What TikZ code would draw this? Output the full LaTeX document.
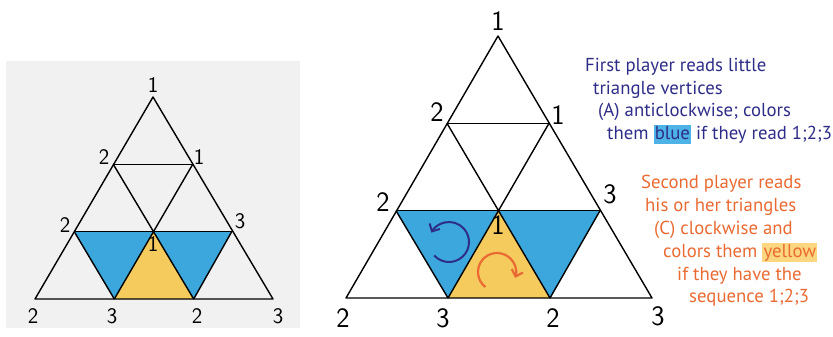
\documentclass[tikz,border=0pt]{standalone}
\usepackage{fontspec}
\setmainfont{PT Sans}
\usepackage{tikz}
\usetikzlibrary{calc,arrows.meta}
\definecolor{tri-blue}{HTML}{3BA7DC}
\definecolor{tri-yellow}{HTML}{F6CB5E}
\definecolor{txt-blue}{HTML}{2E2D88}
\definecolor{txt-orange}{HTML}{E96A32}
\definecolor{hl-blue}{HTML}{4DB3E6}
\definecolor{hl-yellow}{HTML}{FCD77F}
\definecolor{paper}{HTML}{F1F1F1}
\newcommand{\hlword}[2]{{\setlength{\fboxsep}{1pt}\colorbox{#1}{\vphantom{bly}#2}}}

\begin{document}
\begin{tikzpicture}[x=0.03cm, y=-0.03cm,
    grid/.style={line width=1.2pt, line join=round},
    numL/.style={font=\sffamily\fontsize{19}{21}\selectfont},
    numR/.style={font=\sffamily\fontsize{24}{26}\selectfont},
    bluetxt/.style={anchor=base west, inner sep=0pt, text=txt-blue, font=\fontsize{16}{18}\selectfont},
    orangetxt/.style={anchor=base west, inner sep=0pt, text=txt-orange, font=\fontsize{16}{18}\selectfont}]
    \useasboundingbox (0,0) rectangle (833,337);
    \fill[paper] (6,61) rectangle (300,328);

    % left triangle
    \coordinate (L0) at (153,97);
    \coordinate (L11) at (113.3,164.3);
    \coordinate (L12) at (192.7,164.3);
    \coordinate (L21) at (74.3,231.7);
    \coordinate (L22) at (153,231.7);
    \coordinate (L23) at (231.7,231.7);
    \coordinate (L31) at (35,299);
    \coordinate (L32) at (114.3,299);
    \coordinate (L33) at (193.7,299);
    \coordinate (L34) at (273,299);
    \fill[tri-blue] (L21) -- (L22) -- (L32) -- cycle;
    \fill[tri-blue] (L22) -- (L23) -- (L33) -- cycle;
    \fill[tri-yellow] (L22) -- (L32) -- (L33) -- cycle;
    \draw[grid] (L0) -- (L31) -- (L34) -- cycle;
    \draw[grid] (L11) -- (L12) (L21) -- (L23);
    \draw[grid] (L11) -- (L33) (L12) -- (L32);
    \draw[grid] (L21) -- (L32) (L23) -- (L33);
    \node[numL] (l0) at (153,85) {1};
    \node[numL] (l11) at (104,157) {2};
    \node[numL] (l12) at (199,157) {1};
    \node[numL] (l21) at (65,225) {2};
    \node[numL] (l23) at (240,221) {3};
    \node[numL] (l22) at (153,244) {1};
    \node[numL] (l31) at (33,316) {2};
    \node[numL] (l32) at (112,316) {3};
    \node[numL] (l33) at (197,316) {2};
    \node[numL] (l34) at (278,316) {3};

    % right triangle
    \coordinate (R0) at (498,36);
    \coordinate (R11) at (447,123.3);
    \coordinate (R12) at (549,123.3);
    \coordinate (R21) at (396,210.7);
    \coordinate (R22) at (498,210.7);
    \coordinate (R23) at (600,210.7);
    \coordinate (R31) at (346,298);
    \coordinate (R32) at (448,298);
    \coordinate (R33) at (550,298);
    \coordinate (R34) at (652,298);
    \fill[tri-blue] (R21) -- (R22) -- (R32) -- cycle;
    \fill[tri-blue] (R22) -- (R23) -- (R33) -- cycle;
    \fill[tri-yellow] (R22) -- (R32) -- (R33) -- cycle;
    \draw[grid] (R0) -- (R31) -- (R34) -- cycle;
    \draw[grid] (R11) -- (R12) (R21) -- (R23);
    \draw[grid] (R11) -- (R33) (R12) -- (R32);
    \draw[grid] (R21) -- (R32) (R23) -- (R33);
    \node[numR] (r0) at (498,21) {1};
    \node[numR] (r11) at (437,112) {2};
    \node[numR] (r12) at (558,115) {1};
    \node[numR] (r21) at (383,202) {2};
    \node[numR] (r23) at (610,194) {3};
    \node[numR] (r22) at (498,225) {1};
    \node[numR] (r31) at (343,318) {2};
    \node[numR] (r32) at (443,318) {3};
    \node[numR] (r33) at (553,318) {2};
    \node[numR] (r34) at (658,316) {3};

    % turning arrows
    \coordinate (Bc) at (449,242);
    \coordinate (Yc) at (497,272);
    \draw[txt-blue, line width=1.7pt, -{Straight Barb[length=5pt,width=10pt]}]
        (Bc) ++(-222:20) arc[start angle=-222, end angle=-512, radius=20];
    \draw[txt-orange, line width=1.9pt, -{Straight Barb[length=5pt,width=10pt]}]
        (Yc) ++(-232:19) arc[start angle=-232, end angle=18, radius=19];

    % first player
    \node[bluetxt] (b1) at (585,71.5) {First player reads little};
    \node[bluetxt] (b2) at (593,94) {triangle vertices};
    \node[bluetxt] (b3) at (598,116.5) {(A) anticlockwise; colors};
    \node[bluetxt] (b4) at (607,139) {them \hlword{hl-blue}{blue} if they read 1;2;3};

    % second player
    \node[orangetxt] (o1) at (641,188) {Second player reads};
    \node[orangetxt] (o2) at (645,211) {his or her triangles};
    \node[orangetxt] (o3) at (654,234) {(C) clockwise and};
    \node[orangetxt] (o4) at (663,257) {colors them \hlword{hl-yellow}{yellow}};
    \node[orangetxt] (o5) at (677,280) {if they have the};
    \node[orangetxt] (o6) at (689,302.5) {sequence 1;2;3};
\end{tikzpicture}
\end{document}
